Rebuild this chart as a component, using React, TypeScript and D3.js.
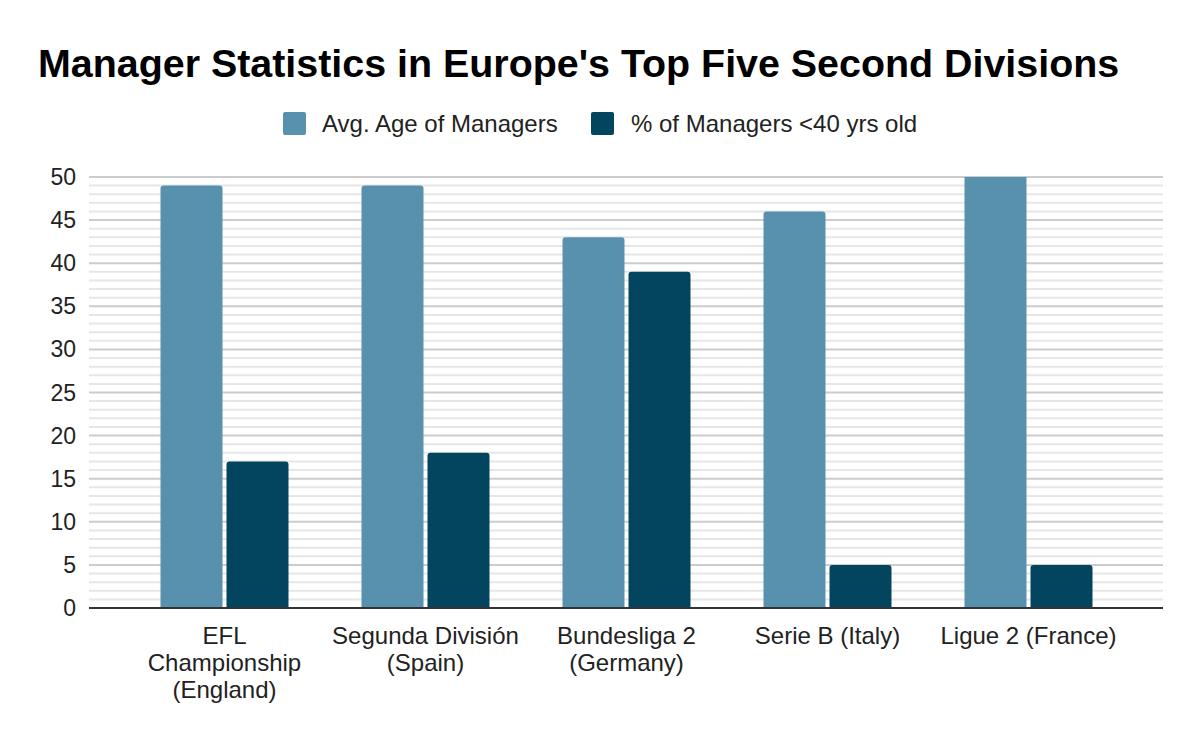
import React from "react";
import * as d3 from "d3";

const categories = [
  ["EFL", "Championship", "(England)"],
  ["Segunda División", "(Spain)"],
  ["Bundesliga 2", "(Germany)"],
  ["Serie B (Italy)"],
  ["Ligue 2 (France)"],
];
const avgAge = [49, 49, 43, 46, 50];
const pctUnder40 = [17, 18, 39, 5, 5];
const seriesNames = ["Avg. Age of Managers", "% of Managers <40 yrs old"];
const colors = ["#5891ae", "#03455f"];
const yTicks = [0, 5, 10, 15, 20, 25, 30, 35, 40, 45, 50];

const W = 1200, H = 742;
const gridLeft = 89, gridRight = 1163;
const top = 177, bottom = 608;

export default function App() {
  const y = d3.scaleLinear().domain([0, 50]).range([bottom, top]);
  const x = d3.scaleBand<number>().domain(d3.range(categories.length)).range([124, 1129]);
  const minor = d3.range(0, 51, 1).filter((v) => v % 5 !== 0);
  const barW = 62, gap = 4;
  const font = "'Liberation Sans', Arial, sans-serif";

  const barPath = (x0: number, v: number) => {
    const y0 = y(v), y1 = y(0);
    const r = v >= 50 ? 0 : 3;
    return `M${x0},${y1}V${y0 + r}Q${x0},${y0} ${x0 + r},${y0}H${x0 + barW - r}Q${x0 + barW},${y0} ${x0 + barW},${y0 + r}V${y1}Z`;
  };

  return (
    <svg width={W} height={H} style={{ position: "absolute", left: 0, top: 0, background: "#fff" }} fontFamily={font}>
      <rect width={W} height={H} fill="#fff" />
      <text x={38} y={77} fontSize={39.4} fontWeight="bold" fill="#000">
        Manager Statistics in Europe's Top Five Second Divisions
      </text>
      {/* legend */}
      <g fontSize={24} fill="#222">
        <rect x={283} y={112} width={23} height={23} rx={2} fill={colors[0]} />
        <text x={322} y={132}>{seriesNames[0]}</text>
        <rect x={591} y={112} width={23} height={23} rx={2} fill={colors[1]} />
        <text x={631} y={132}>{seriesNames[1]}</text>
      </g>
      {/* grid */}
      {minor.map((v) => (
        <line key={"m" + v} x1={gridLeft} x2={gridRight} y1={y(v)} y2={y(v)} stroke="#e6e6e6" strokeWidth={2} />
      ))}
      {yTicks.filter((v) => v > 0).map((v) => (
        <line key={"M" + v} x1={gridLeft} x2={gridRight} y1={y(v)} y2={y(v)} stroke="#cccccc" strokeWidth={2} />
      ))}
      {yTicks.map((v) => (
        <text key={"t" + v} x={76} y={y(v) + 8} fontSize={23} textAnchor="end" fill="#222">{v}</text>
      ))}
      {/* bars */}
      {categories.map((_, i) => {
        const c = (x(i) as number) + x.bandwidth() / 2;
        return (
          <g key={i}>
            <path d={barPath(c - gap / 2 - barW, avgAge[i])} fill={colors[0]} />
            <path d={barPath(c + gap / 2, pctUnder40[i])} fill={colors[1]} />
          </g>
        );
      })}
      <line x1={gridLeft} x2={gridRight} y1={bottom} y2={bottom} stroke="#333" strokeWidth={2} />
      {/* x labels */}
      {categories.map((lines, i) => {
        const c = (x(i) as number) + x.bandwidth() / 2;
        return (
          <text key={"x" + i} textAnchor="middle" fontSize={24} fill="#222">
            {lines.map((l, j) => (
              <tspan key={j} x={c} y={644 + j * 27}>{l}</tspan>
            ))}
          </text>
        );
      })}
    </svg>
  );
}
